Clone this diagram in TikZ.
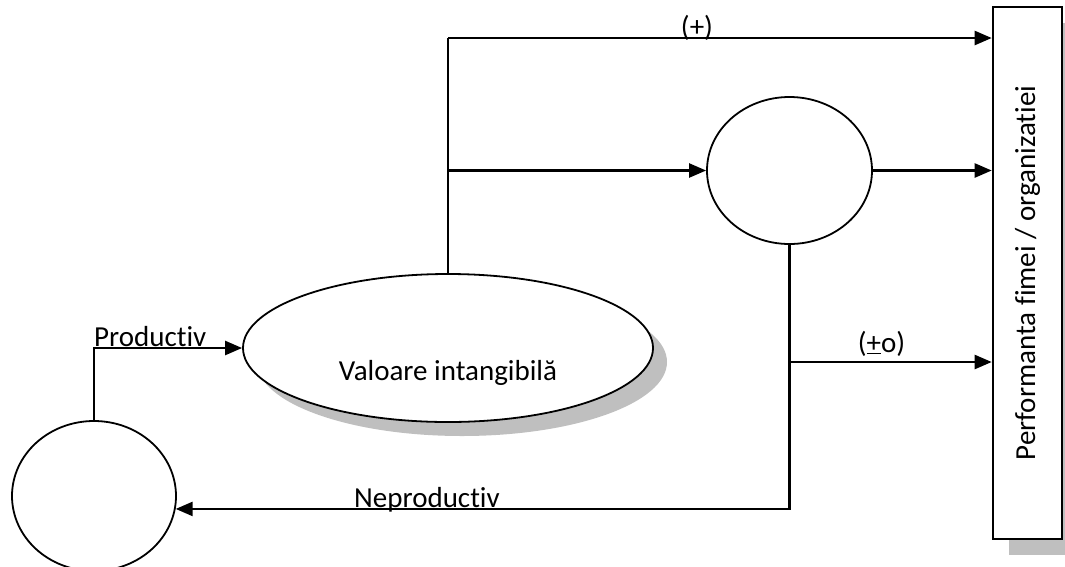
\documentclass[tikz,border=0pt]{standalone}
\usepackage{fontspec}
\setmainfont[Ligatures=NoCommon]{Carlito}
\usetikzlibrary{arrows.meta,shapes.geometric,shadows}
\begin{document}
\begin{tikzpicture}[x=1pt,y=-1pt,
  every node/.style={font=\fontsize{29}{34}\selectfont},
  oval/.style={ellipse,draw,line width=1.8pt,fill=white,inner sep=0pt},
  conn/.style={line width=2.4pt,-{Triangle[length=17pt,width=14pt]}},
  plain/.style={line width=2.4pt},
  txt/.style={inner sep=0pt}]
\useasboundingbox (0,0) rectangle (1065,566);
% performance box
\node[draw,line width=2.6pt,fill=white,minimum width=69pt,minimum height=532pt,inner sep=0pt,
  drop shadow={shadow xshift=16pt,shadow yshift=-16pt,fill=black!25,opacity=1}]
  (perf) at (1027.5,273) {\rotatebox{90}{Performanta fimei / organizatiei}};
% intangible value ellipse
\node[oval,minimum width=410pt,minimum height=148pt,
  drop shadow={shadow xshift=14pt,shadow yshift=-14pt,fill=black!25,opacity=1}]
  (vi) at (448,348) {};
\node[txt,anchor=base] (vit) at (448,380) {Valoare intangibilă};
% circles
\node[oval,minimum width=164pt,minimum height=150pt] (c1) at (94,496) {};
\node[oval,minimum width=165pt,minimum height=147pt] (c2) at (789.5,170.5) {};
% connectors
\coordinate (t) at (448,38);
\coordinate (b) at (448,170.5);
\draw[plain] (vi.north) -- (t);
\draw[conn] (t) -- (t -| perf.west);
\draw[conn] (b) -- (c2.west);
\draw[conn] (c2.east) -- (c2.east -| perf.west);
\coordinate (ne) at (c1.-9.1);
\draw[conn] (c2.south) |- (ne);
\coordinate (m) at (789.5,362);
\draw[conn] (m) -- (m -| perf.west);
\draw[conn] (c1.north) |- (vi.west);
% labels
\node[txt,anchor=south] (lp) at (697,41) {(+)};
\node[txt,anchor=base west] (lprod) at (94,346) {Productiv};
\node[txt,anchor=base west] (lnep) at (354,507) {Neproductiv};
\node[txt,anchor=base] (lpm) at (881.5,352) {(\underline{+}o)};
\end{tikzpicture}
\end{document}
